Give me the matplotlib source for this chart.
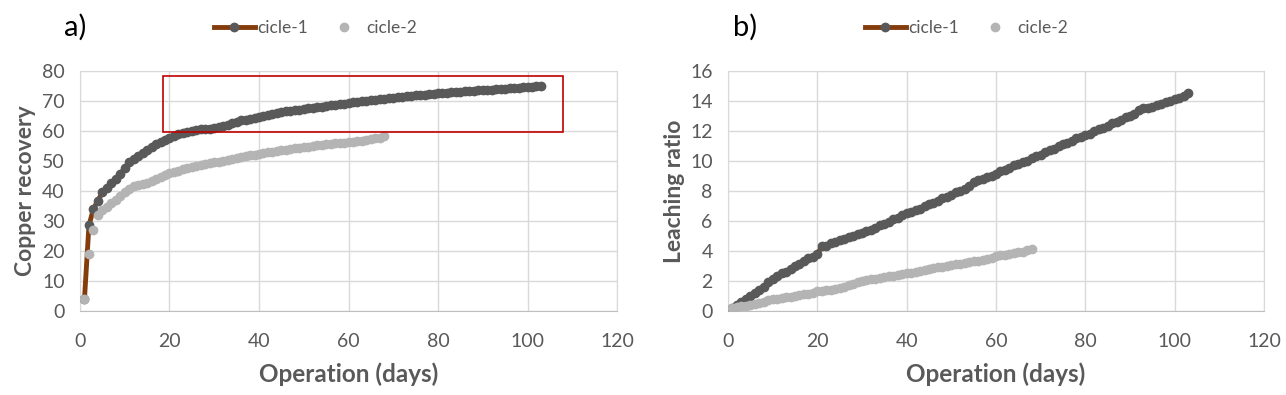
import numpy as np
import matplotlib
matplotlib.use("Agg")
import matplotlib.pyplot as plt

plt.rcParams['font.family'] = ['Lato', 'DejaVu Sans']

# copper recovery (%) per day
rec1 = [4, 28.5, 34, 36.8, 39.5, 41, 42.5, 44, 45.8, 47.5,
        49.5, 50.5, 51.5, 52.5, 53.5, 54.5, 55.5, 56.3, 57, 57.8,
        58.4, 58.9, 59.3, 59.7, 60, 60.3, 60.5, 60.6, 60.7, 60.9,
        61.2, 61.6, 62, 62.5, 63, 63.5, 63.8, 64.1, 64.4, 64.8,
        65.1, 65.4, 65.7, 66, 66.2, 66.5, 66.7, 66.9, 67.1, 67.3,
        67.5, 67.7, 67.9, 68.1, 68.3, 68.5, 68.7, 68.9, 69.1, 69.3,
        69.5, 69.7, 69.9, 70.1, 70.2, 70.4, 70.6, 70.7, 70.9, 71.1,
        71.2, 71.4, 71.5, 71.7, 71.9, 72, 72.1, 72.3, 72.4, 72.6,
        72.7, 72.8, 72.9, 73, 73.1, 73.2, 73.3, 73.4, 73.5, 73.6,
        73.7, 73.8, 73.9, 74, 74.1, 74.2, 74.3, 74.4, 74.5, 74.6,
        74.7, 74.9, 75.1]
rec2 = [4, 19, 27, 32, 33.5, 34.5, 36, 37, 38.2, 39.5,
        40.5, 41.5, 42, 42.3, 42.8, 43.3, 44, 44.6, 45.3, 46,
        46.4, 46.8, 47.2, 47.6, 48, 48.3, 48.6, 48.9, 49.2, 49.5,
        49.8, 50.1, 50.4, 50.7, 51, 51.3, 51.6, 51.9, 52.1, 52.3,
        52.6, 52.9, 53.1, 53.4, 53.6, 53.8, 54, 54.2, 54.4, 54.6,
        54.8, 55, 55.2, 55.4, 55.6, 55.7, 55.9, 56, 56.1, 56.2,
        56.3, 56.5, 56.7, 57, 57.2, 57.5, 57.8, 58.2]

# leaching ratio per day
lr1 = [0.2, 0.4, 0.6, 0.8, 1.0, 1.2, 1.4, 1.6, 1.9, 2.1,
       2.3, 2.5, 2.6, 2.8, 3.0, 3.1, 3.3, 3.5, 3.6, 3.8,
       4.3, 4.3, 4.5, 4.6, 4.7, 4.8, 4.9, 5.0, 5.1, 5.2,
       5.3, 5.4, 5.5, 5.7, 5.8, 5.9, 6.1, 6.2, 6.4, 6.5,
       6.6, 6.7, 6.8, 7.0, 7.1, 7.2, 7.3, 7.5, 7.6, 7.7,
       7.9, 8.0, 8.1, 8.3, 8.6, 8.7, 8.8, 8.9, 9.0, 9.1,
       9.3, 9.4, 9.5, 9.7, 9.8, 9.9, 10.0, 10.2, 10.3, 10.4,
       10.6, 10.7, 10.8, 11.0, 11.1, 11.2, 11.3, 11.5, 11.6, 11.7,
       11.8, 12.0, 12.1, 12.2, 12.3, 12.5, 12.6, 12.7, 12.9, 13.0,
       13.1, 13.4, 13.5, 13.5, 13.6, 13.7, 13.8, 13.9, 14.0, 14.1,
       14.2, 14.3, 14.5]
lr2 = [0.2, 0.25, 0.3, 0.35, 0.4, 0.45, 0.5, 0.6, 0.7, 0.77,
       0.8, 0.85, 0.9, 0.95, 1.0, 1.05, 1.1, 1.15, 1.2, 1.3,
       1.33, 1.37, 1.4, 1.45, 1.5, 1.6, 1.7, 1.8, 1.9, 2.0,
       2.05, 2.1, 2.15, 2.2, 2.25, 2.3, 2.35, 2.4, 2.45, 2.5,
       2.55, 2.6, 2.65, 2.7, 2.8, 2.85, 2.9, 2.95, 3.0, 3.05,
       3.1, 3.15, 3.2, 3.25, 3.3, 3.35, 3.4, 3.45, 3.55, 3.65,
       3.7, 3.75, 3.8, 3.85, 3.9, 3.95, 4.05, 4.15]

days1 = np.arange(1, len(rec1) + 1)
days2 = np.arange(1, len(rec2) + 1)

brown = "#843C0C"
dark = "#595959"
light = "#B4B4B4"
grid = "#D9D9D9"
txt = "#595959"

fig = plt.figure(figsize=(12.86, 3.95), dpi=100)
axa = fig.add_axes([0.0622, 0.2127, 0.4176, 0.6076])
axb = fig.add_axes([0.5661, 0.2127, 0.4168, 0.6076])

panels = [(axa, rec1, rec2, 80, 10, "Copper recovery", "a)", -0.03, 0.4385),
          (axb, lr1, lr2, 16, 2, "Leaching ratio", "b)", 0.01, 0.445)]

for ax, y1, y2, ymax, ystep, ylab, tag, tagx, legx in panels:
    ax.plot(days1, y1, color=brown, lw=3.5, marker="o", ms=6,
            mfc=dark, mec=dark, label="cicle-1", zorder=3)
    ax.plot(days2, y2, ls="none", marker="o", ms=6,
            mfc=light, mec=light, label="cicle-2", zorder=4)
    ax.set_xlim(0, 120)
    ax.set_ylim(0, ymax)
    ax.set_xticks(np.arange(0, 121, 20))
    ax.set_yticks(np.arange(0, ymax + 1, ystep))
    ax.grid(True, color=grid, lw=1)
    ax.set_axisbelow(True)
    for s in ax.spines.values():
        s.set_color(grid)
    ax.spines['bottom'].set_color("#BFBFBF")
    ax.tick_params(length=0, labelsize=14, colors=txt)
    ax.tick_params(axis="x", pad=16)
    ax.tick_params(axis="y", pad=11)
    ax.set_xlabel("Operation (days)", fontsize=17.5, fontweight="bold", color=txt, labelpad=9)
    ax.set_ylabel(ylab, fontsize=16.5, fontweight="bold", color=txt, labelpad=4)
    ax.legend(loc="center", bbox_to_anchor=(legx, 1.18), ncol=2, frameon=False,
              fontsize=12.5, labelcolor=txt, handlelength=2.4, handletextpad=0.1,
              columnspacing=0.9)
    ax.text(tagx, 1.18, tag, transform=ax.transAxes, fontsize=21, va="center")

# highlight box on panel a
axa.add_patch(plt.Rectangle((18.5, 59.7), 89.5, 18.6, fill=False,
                            ec="#C00000", lw=1.2, zorder=5))

fig.savefig("out.png", dpi=100)
